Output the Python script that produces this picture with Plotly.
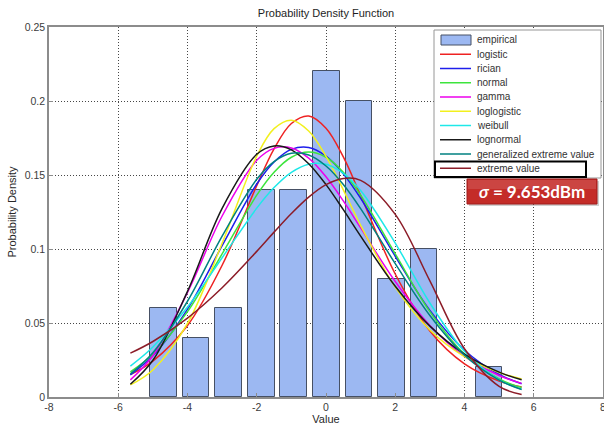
import plotly.graph_objects as go

# ---------------- data ----------------
bin_centers = [-4.69, -3.75, -2.81, -1.87, -0.93, 0.01, 0.95, 1.89, 2.83, 3.77, 4.71]
empirical = [0.06, 0.04, 0.06, 0.14, 0.14, 0.22, 0.20, 0.08, 0.10, 0.0, 0.02]

fit_x = [-5.65, -5.0, -4.0, -3.0, -2.0, -1.5, -1.0, -0.5, 0.0, 0.5, 1.0, 2.0, 3.0, 4.0, 5.0, 5.65]
logistic_pdf = [0.0152, 0.0243, 0.0483, 0.0890, 0.1428, 0.1677, 0.1848, 0.1899, 0.1816, 0.1622, 0.1362, 0.0831, 0.0446, 0.0224, 0.0108, 0.0067]
rician_pdf = [0.0150, 0.0278, 0.0594, 0.1023, 0.1439, 0.1588, 0.1673, 0.1686, 0.1628, 0.1509, 0.1343, 0.0951, 0.0585, 0.0316, 0.0152, 0.0090]
normal_pdf = [0.0169, 0.0290, 0.0577, 0.0967, 0.1364, 0.1519, 0.1620, 0.1655, 0.1620, 0.1519, 0.1364, 0.0967, 0.0577, 0.0290, 0.0122, 0.0064]
gamma_pdf = [0.0116, 0.0279, 0.0706, 0.1223, 0.1599, 0.1680, 0.1683, 0.1614, 0.1488, 0.1325, 0.1143, 0.0780, 0.0483, 0.0274, 0.0145, 0.0092]
loglogistic_pdf = [0.0082, 0.0183, 0.0497, 0.1039, 0.1628, 0.1813, 0.1870, 0.1797, 0.1626, 0.1400, 0.1160, 0.0742, 0.0453, 0.0273, 0.0166, 0.0122]
weibull_pdf = [0.0209, 0.0338, 0.0608, 0.0941, 0.1276, 0.1415, 0.1518, 0.1573, 0.1572, 0.1511, 0.1395, 0.1040, 0.0635, 0.0309, 0.0116, 0.0052]
lognormal_pdf = [0.0086, 0.0248, 0.0714, 0.1275, 0.1640, 0.1696, 0.1670, 0.1576, 0.1435, 0.1266, 0.1087, 0.0748, 0.0479, 0.0290, 0.0168, 0.0116]
gev_pdf = [0.0156, 0.0299, 0.0647, 0.1087, 0.1471, 0.1591, 0.1647, 0.1635, 0.1561, 0.1436, 0.1273, 0.0901, 0.0551, 0.0283, 0.0114, 0.0051]
ev_pdf = [0.0296, 0.0375, 0.0533, 0.0738, 0.0984, 0.1114, 0.1240, 0.1351, 0.1435, 0.1477, 0.1464, 0.1234, 0.0785, 0.0326, 0.0072, 0.0017]

series_names = ["logistic", "rician", "normal", "gamma", "loglogistic", "weibull",
                "lognormal", "generalized extreme value", "extreme value"]
series_values = [logistic_pdf, rician_pdf, normal_pdf, gamma_pdf, loglogistic_pdf,
                 weibull_pdf, lognormal_pdf, gev_pdf, ev_pdf]
empirical_name = "empirical"

x_ticks = [-8, -6, -4, -2, 0, 2, 4, 6, 8]
x_tick_labels = ["-8", "-6", "-4", "-2", "0", "2", "4", "6", "8"]
y_ticks = [0, 0.05, 0.1, 0.15, 0.2, 0.25]
y_tick_labels = ["0", "0.05", "0.1", "0.15", "0.2", "0.25"]

title_text = "Probability Density Function"
x_title = "Value"
y_title = "Probability Density"
sigma_text = "<b><i>σ</i> = 9.653dBm</b>"

# ---------------- styles ----------------
colors = ["rgb(238,34,34)", "rgb(30,30,235)", "rgb(60,228,60)", "rgb(236,0,236)",
          "rgb(242,240,30)", "rgb(30,232,232)", "rgb(25,25,25)", "rgb(0,128,128)",
          "rgb(140,28,40)"]
bar_fill = "rgb(156,184,242)"
bar_line = "rgb(70,80,100)"
FONT = "Liberation Sans, Arial, sans-serif"

W, H = 604, 426
L, R, T, B = 49, 603, 27, 397


def px(x):
    return (x - L) / (R - L)


def py(y):
    return (B - y) / (B - T)


bar_outline_widths = [1 if v > 0 else 0 for v in empirical]

fig = go.Figure()
fig.add_trace(go.Bar(x=bin_centers, y=empirical, width=0.77, name=empirical_name,
                     marker=dict(color=bar_fill, line=dict(color=bar_line, width=bar_outline_widths)),
                     showlegend=False))
for name, vals, col in zip(series_names, series_values, colors):
    fig.add_trace(go.Scatter(x=fit_x, y=vals, mode="lines", name=name,
                             line=dict(color=col, width=1.5, shape="spline", smoothing=1.0),
                             showlegend=False))

axis_common = dict(showline=True, linecolor="rgb(140,140,140)", linewidth=1.5, mirror=True,
                   ticks="inside", ticklen=4, tickcolor="rgb(140,140,140)",
                   showgrid=True, gridcolor="rgb(70,70,70)", gridwidth=1, griddash="1px,2px",
                   zeroline=False, ticklabeloverflow="allow",
                   tickfont=dict(family=FONT, size=10.5, color="rgb(60,60,60)"))

fig.update_layout(
    width=W, height=H,
    margin=dict(l=L, r=W - R, t=T, b=H - B, autoexpand=False),
    paper_bgcolor="white", plot_bgcolor="white",
    bargap=0,
    title=dict(text=title_text, x=px(326), xref="paper", xanchor="center",
               y=1 - 13 / H, yref="container", yanchor="middle",
               font=dict(family=FONT, size=11, color="rgb(30,30,30)")),
    xaxis=dict(range=[-8, 8], tickvals=x_ticks, ticktext=x_tick_labels,
               title=dict(text=x_title, standoff=1, font=dict(family=FONT, size=11, color="rgb(40,40,40)")),
               **axis_common),
    yaxis=dict(range=[0, 0.25], tickvals=y_ticks, ticktext=y_tick_labels,
               title=dict(text=y_title, standoff=6, font=dict(family=FONT, size=11, color="rgb(40,40,40)")),
               **axis_common),
    showlegend=False,
)

# ---------------- legend box (drawn like the MATLAB legend) ----------------
shapes = []
annotations = []
shapes.append(dict(type="rect", xref="paper", yref="paper",
                   x0=px(434), x1=px(601), y0=py(178), y1=py(30),
                   fillcolor="white", line=dict(color="rgb(150,150,150)", width=1), layer="above"))
row0 = 40.0
row_step = 14.25
# empirical patch
shapes.append(dict(type="rect", xref="paper", yref="paper",
                   x0=px(441), x1=px(471), y0=py(row0 + 5), y1=py(row0 - 5),
                   fillcolor=bar_fill, line=dict(color=bar_line, width=1), layer="above"))
annotations.append(dict(xref="paper", yref="paper", x=px(475), y=py(row0), text=empirical_name,
                        showarrow=False, xanchor="left", yanchor="middle",
                        font=dict(family=FONT, size=10, color="rgb(50,50,50)")))
for i, (name, col) in enumerate(zip(series_names, colors)):
    yy = row0 + (i + 1) * row_step
    shapes.append(dict(type="line", xref="paper", yref="paper",
                       x0=px(440), x1=px(471), y0=py(yy), y1=py(yy),
                       line=dict(color=col, width=1.5), layer="above"))
    annotations.append(dict(xref="paper", yref="paper", x=px(475), y=py(yy), text=name,
                            showarrow=False, xanchor="left", yanchor="middle",
                            font=dict(family=FONT, size=10, color="rgb(50,50,50)")))
# highlight box around "extreme value"
shapes.append(dict(type="rect", xref="paper", yref="paper",
                   x0=px(435), x1=px(586), y0=py(177), y1=py(161.5),
                   line=dict(color="black", width=2), layer="above"))

# sigma label box
shapes.append(dict(type="rect", xref="paper", yref="paper",
                   x0=px(469), x1=px(599), y0=py(206), y1=py(181),
                   fillcolor="rgba(120,120,120,0.35)", line=dict(width=0), layer="above"))
shapes.append(dict(type="rect", xref="paper", yref="paper",
                   x0=px(467), x1=px(597), y0=py(204), y1=py(179),
                   fillcolor="rgb(196,44,40)", line=dict(color="rgb(160,28,28)", width=1), layer="above"))
shapes.append(dict(type="rect", xref="paper", yref="paper",
                   x0=px(468), x1=px(596), y0=py(189), y1=py(180),
                   fillcolor="rgba(255,255,255,0.12)", line=dict(width=0), layer="above"))
annotations.append(dict(xref="paper", yref="paper", x=px(532), y=py(191.5), text=sigma_text,
                        showarrow=False, xanchor="center", yanchor="middle",
                        font=dict(family="Lato, Open Sans, sans-serif", size=17, color="white")))

fig.update_layout(shapes=shapes, annotations=annotations)
fig.write_html("out.html", config={"displayModeBar": False})
